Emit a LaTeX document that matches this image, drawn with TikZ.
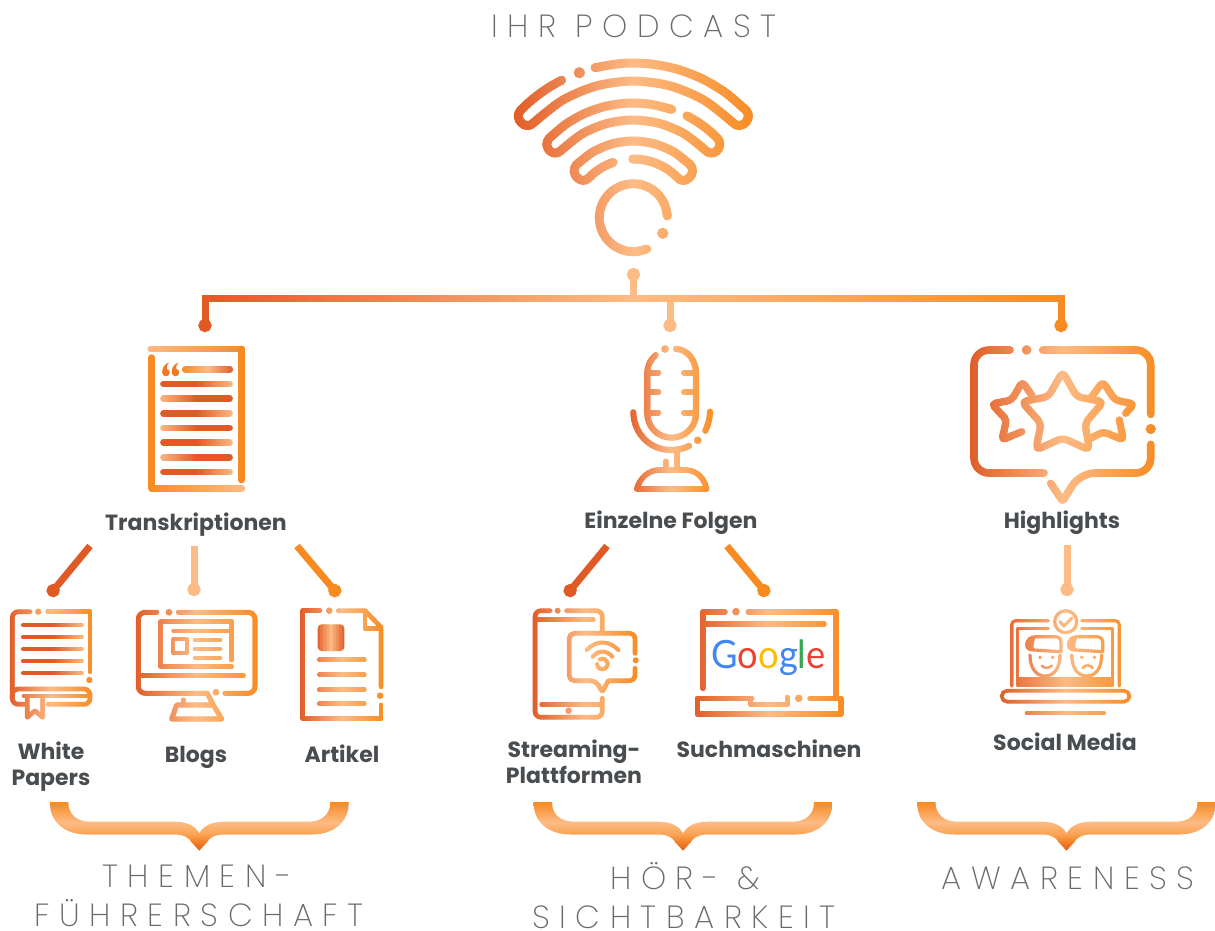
\documentclass[tikz,border=0pt]{standalone}
\usepackage{fontspec}
\setmainfont{Poppins}
\newfontfamily\lightf{Poppins}[UprightFont=* ExtraLight,LetterSpace=30]
\newfontfamily\googf{Lato}
\usetikzlibrary{arrows.meta}
\definecolor{dk}{HTML}{E05A25}
\definecolor{pc}{HTML}{FDBB85}
\definecolor{og}{HTML}{F78B22}
\definecolor{txt}{HTML}{4A4D50}
\definecolor{ttl}{HTML}{6A6A6A}
\colorlet{brA}{dk!30!og}
\colorlet{brB}{og!50!pc}
\pgfdeclareverticalshading{bracesh}{100bp}{color(0bp)=(dk); color(25bp)=(dk); color(33bp)=(brA); color(42bp)=(brB); color(54bp)=(pc); color(75bp)=(og); color(100bp)=(og)}
\colorlet{gc}{dk}
\colorlet{gL}{dk}\colorlet{gM}{pc}\colorlet{gR}{og}
\newcommand\stdgrad{\colorlet{gL}{dk}\colorlet{gM}{pc}\colorlet{gR}{og}}
\newcommand\setgrad[3]{\colorlet{gL}{#1}\colorlet{gM}{#2}\colorlet{gR}{#3}}
\newcommand\gstep{3}
% strips of a horizontal gradient: x0,x1,y0,y1,content
\newcommand\gradbox[5]{%
  \pgfmathsetmacro\gw{#2-(#1)}%
  \pgfmathtruncatemacro\gn{max(2,round(\gw/\gstep))}%
  \pgfmathsetmacro\gs{\gw/\gn}%
  \foreach \gi in {1,...,\gn}{%
    \pgfmathsetmacro\gt{(\gi-0.5)/\gn}%
    \pgfmathsetmacro\xa{#1+(\gi-1)*\gs}%
    \pgfmathsetmacro\xb{\xa+\gs+0.6}%
    \ifdim\gt pt<0.5pt
      \pgfmathsetmacro\gp{(1-2*\gt)*100}\colorlet{gc}{gL!\gp!gM}%
    \else
      \pgfmathsetmacro\gp{(2*\gt-1)*100}\colorlet{gc}{gR!\gp!gM}%
    \fi
    \begin{scope}
      \clip (\xa,#3) rectangle (\xb,#4);
      #5
    \end{scope}
  }%
}
\newcommand\dotg[3]{\fill[gc] (#1,#2) circle ({#3*1.12});}
\newcommand\wtip[6]{.. controls ({633.3+(#1)*cos(#2)},{221-(#1)*sin(#2)}) and ({633.3+(#3)*cos(#4)},{221-(#3)*sin(#4)}) .. ({633.3+(#5)*cos(#6)},{221-(#5)*sin(#6)})}
\newcommand\warc[3]{plot[smooth,domain=#2:#3,samples=7] ({633.3+(#1)*cos(\x)},{221-(#1)*sin(\x)})}
\newcommand\warcc[3]{-- plot[smooth,domain=#2:#3,samples=7] ({633.3+(#1)*cos(\x)},{221-(#1)*sin(\x)})}
\newcommand\bracep[1]{%
 \shade[shading=bracesh,shift={(#1,0)}]
  (-149.5,802) -- (-131,802) .. controls (-131,815) and (-122,821.7) .. (-109,821.7)
  -- (-25,821.7) .. controls (-12,821.7) and (-4,826) .. (0,833.3)
  .. controls (4,826) and (12,821.7) .. (25,821.7) -- (109,821.7)
  .. controls (122,821.7) and (131,815) .. (131,802) -- (149.5,802)
  .. controls (149.5,822) and (135,834.5) .. (112,834.5) -- (25,834.5)
  .. controls (15,834.5) and (10,838) .. (8,842) -- (0,850.7) -- (-8,842)
  .. controls (-10,838) and (-15,834.5) .. (-25,834.5) -- (-112,834.5)
  .. controls (-135,834.5) and (-149.5,822) .. (-149.5,802) -- cycle;}
\tikzset{
  x=1pt,y=-1pt,
  ic/.style={draw=gc,line cap=round,line join=round,line width={(#1)*1.12pt},fill=none},
  ic/.default=4,
  droplead/.style={line width=7pt,-{Circle[length=13pt,width=13pt]}},
  boldlabel/.style={font=\bfseries\fontsize{22}{26}\selectfont,text=txt,align=center,inner sep=0pt,anchor=base},
  thinlabel/.style={font=\lightf\fontsize{32}{39}\selectfont,text=ttl,align=center,inner sep=0pt,anchor=base},
}
\begin{document}
\begin{tikzpicture}
\useasboundingbox (0,0) rectangle (1215,930);
\fill[white] (0,0) rectangle (1215,930);

% ---------- texts
\node[thinlabel] (title) at (634,37) {IHR PODCAST};
\node[boldlabel] (lT) at (196,530) {Transkriptionen};
\node[boldlabel] (lE) at (671,528) {Einzelne Folgen};
\node[boldlabel] (lH) at (1062,528) {Highlights};
\node[boldlabel] (lW) at (51,759) {White};
\node[boldlabel] (lW2) at (51,785) {Papers};
\node[boldlabel] (lB) at (196,762) {Blogs};
\node[boldlabel] (lA) at (342,762) {Artikel};
\node[boldlabel] (lS) at (574,757) {Streaming-};
\node[boldlabel] (lS2) at (574,783) {Plattformen};
\node[boldlabel] (lG) at (769,757) {Suchmaschinen};
\node[boldlabel] (lM) at (1065,750) {Social Media};
\node[thinlabel] (tA) at (197,887) {THEMEN-};
\node[thinlabel] (tB) at (199,926) {FÜHRERSCHAFT};
\node[thinlabel] (tC) at (685,889) {HÖR- \&};
\node[thinlabel] (tD) at (684,928) {SICHTBARKEIT};
\node[thinlabel] (tE) at (1068,889) {AWARENESS};

% ---------- connector coordinates
\coordinate (hub) at (633.5,268);
\coordinate (busL) at (205,298);
\coordinate (busM) at (670,298);
\coordinate (busH) at (633.5,298);
\coordinate (busR) at (1061,298);
\coordinate (dL) at (205,332);
\coordinate (dM) at (670,332);
\coordinate (dR) at (1061,332);
\coordinate (t1a) at (90,546);\coordinate (t1b) at (49,595.6);
\coordinate (t2a) at (194,546);\coordinate (t2b) at (194,596);
\coordinate (t3a) at (297,546);\coordinate (t3b) at (339,595.6);
\coordinate (e1a) at (607,546);\coordinate (e1b) at (566,595.6);
\coordinate (e2a) at (727,546);\coordinate (e2b) at (768,595.6);
\coordinate (h1a) at (1067,545);\coordinate (h1b) at (1067,596);

% ---------- connectors
\draw[droplead,pc] (busH) -- (hub);
\draw[droplead,dk] (busL) -- (dL);
\draw[droplead,pc] (busM) -- (dM);
\draw[droplead,og] (busR) -- (dR);
\renewcommand\gstep{6}
\gradbox{199}{1068}{288}{308}{\draw[draw=gc,line width=7pt,line join=miter] (205,310) -- (busL) -- (busR) -- (1061,310);}
\renewcommand\gstep{3}
\draw[droplead,dk] (t1a) -- (t1b);
\draw[droplead,pc] (t2a) -- (t2b);
\draw[droplead,og] (t3a) -- (t3b);
\draw[droplead,dk] (e1a) -- (e1b);
\draw[droplead,og] (e2a) -- (e2b);
\draw[droplead,pc] (h1a) -- (h1b);

% ---------- podcast symbol
\gradbox{512}{755}{55}{262}{
 \draw[ic=8] \warc{158}{104}{44.5} \wtip{158}{40.4}{140}{39.9}{140}{44.5} \warcc{140}{44.5}{135.5} \wtip{140}{140.1}{158}{139.6}{158}{135.5} \warcc{158}{135.5}{117};
 \dotg{579.3}{72.7}{5}
 \draw[ic=8] \warc{118}{71}{135.5} \wtip{118}{141}{101}{141.9}{101}{135.5} \warcc{101}{135.5}{44.5} \wtip{101}{38.1}{118}{39}{118}{44.5} \warcc{118}{44.5}{63};
 \draw[ic=8] \warc{62}{109}{135.5} \wtip{62}{145.9}{80}{143.5}{80}{135.5} \warcc{80}{135.5}{44.5} \wtip{80}{36.5}{62}{34.1}{62}{44.5} \warcc{62}{44.5}{90.5};
 \draw[ic=8] plot[domain=-3:-293,samples=17,smooth] ({633.3+34*cos(\x)},{217.7+34*sin(\x)});
 \dotg{662.7}{233.3}{5}
}

% ---------- transcript
\setgrad{pc}{pc!50!og}{og}
\gradbox{146}{247}{343}{360}{\draw[ic=6] (150.7,349) -- (241.7,349);}
\colorlet{gc}{og}
\draw[ic=6] (241.7,349) -- (241.7,480);
\draw[ic=6] (151.7,357.7) -- (151.7,488.3);
\setgrad{og}{og!50!pc}{pc}
\gradbox{146}{247}{480}{495}{\draw[ic=6] (151.7,488.3) -- (241.7,488.3);}
\setgrad{og}{pc}{dk}
\gradbox{182}{234}{360}{378}{\draw[ic=6.5] (185.5,369.3) -- (229.5,369.3);}
\fill[dk!35!og] (166,372.5) circle (3.8) (175.5,372.5) circle (3.8);
\fill[dk!35!og] (162.2,372.5) .. controls (162,367) and (165,364) .. (169,362.5) .. controls (167,365) and (166,367) .. (167,369) -- cycle;
\fill[dk!35!og] (171.7,372.5) .. controls (171.5,367) and (174.5,364) .. (178.5,362.5) .. controls (176.5,365) and (175.5,367) .. (176.5,369) -- cycle;
\setgrad{dk}{dk}{pc}
\gradbox{159}{234}{378}{390}{\draw[ic=6] (163.5,384) -- (229.5,384);}
\gradbox{159}{234}{407}{419}{\draw[ic=6] (163.5,413.3) -- (229.5,413.3);}
\gradbox{159}{234}{436}{449}{\draw[ic=6] (163.5,442.7) -- (229.5,442.7);}
\gradbox{159}{234}{466}{478}{\draw[ic=6] (163.5,472) -- (229.5,472);}
\setgrad{pc}{dk}{dk}
\gradbox{159}{234}{392}{405}{\draw[ic=6] (163.5,398.7) -- (229.5,398.7);}
\gradbox{159}{234}{422}{434}{\draw[ic=6] (163.5,428) -- (229.5,428);}
\gradbox{159}{234}{451}{463}{\draw[ic=6] (163.5,457.3) -- (229.5,457.3);}
\stdgrad

% ---------- microphone
\gradbox{626}{716}{342}{495}{
 \draw[ic=5.5] (655.7,355) .. controls (650,360) and (647.3,366) .. (647.3,373.3) -- (647.3,413.4) .. controls (647.3,427) and (658,437.7) .. (671.6,437.7) .. controls (685,437.7) and (696,427) .. (696,413.4) -- (696,373.3) .. controls (696,360) and (687,349) .. (676,349);
 \dotg{665}{349}{3.4}
 \draw[ic=5.5] (647.3,372.7) -- (658.3,372.7) (647.3,392.3) -- (658.3,392.3) (647.3,412.7) -- (658.3,412.7);
 \draw[ic=5.5] (684,372.7) -- (696,372.7) (684,392.3) -- (696,392.3) (684,412.7) -- (696,412.7);
 \draw[ic=5.5] (633.3,412.3) .. controls (634,434) and (650,450) .. (671.3,450) .. controls (678,450) and (684,448.5) .. (689,446);
 \dotg{697.7}{440.3}{3.4}
 \draw[ic=5.5] (710,411.7) .. controls (710,418) and (708,425) .. (705.3,430.7);
 \draw[ic=5.5] (676.7,450) -- (676.7,470) (665.7,461.7) -- (665.7,470);
 \draw[ic=5] (636.7,489) .. controls (640,478) and (648,470) .. (660,470) -- (685,470) .. controls (697,470) and (704,478) .. (706.7,489) -- cycle;
}

% ---------- highlights
\gradbox{968}{1158}{344}{507}{
 \draw[ic=6.8,rounded corners=15pt] (1010,350) -- (974,350) -- (974,473) -- (1044,473);
 \dotg{1026.7}{350}{4.3}
 \draw[ic=6.8,rounded corners=15pt] (1042.7,350) -- (1150.7,350) -- (1150.7,414.3);
 \dotg{1150.7}{429}{4.5}
 \draw[ic=6.8,rounded corners=15pt] (1150.7,444.3) -- (1150.7,473) -- (1080,473) [rounded corners=2pt] -- (1062.7,501) -- (1050.7,483.3);
 \draw[ic=6.5,rounded corners=5pt] (1062.7,371.7) -- (1076.7,396.7) -- (1103.3,401.7) -- (1085,423.3) -- (1089.3,450) -- (1062.7,438) -- (1036,450) -- (1041,423.3) -- (1021.7,401.7) -- (1048.3,396.7) -- cycle;
 \draw[ic=6.5,rounded corners=4pt] (1031.7,395) -- (1022.3,381.7) -- (1011.7,400) -- (991.7,404) -- (1006.7,420) -- (1001.7,440) -- (1021.7,431.7);
 \draw[ic=6.5,rounded corners=4pt] (1091.7,396.7) -- (1102.7,381.7) -- (1115,400) -- (1134,404) -- (1125.7,413.3);
 \draw[ic=6.5,rounded corners=4pt] (1119.3,420) -- (1123.3,440) -- (1103.3,431.7) -- (1090.7,438.3);
}

% ---------- white papers
\gradbox{8}{94}{606}{722}{
 \draw[ic=4.2,rounded corners=6pt] (30,611.7) -- (12.3,611.7) -- (12.3,704.3) -- (25,704.3);
 \dotg{38.3}{611.7}{2.8}
 \draw[ic=4.2] (47.7,611.7) -- (90,611.7) -- (90,671.7);
 \dotg{89.3}{680}{2.8}
 \draw[ic=4.2,rounded corners=6pt] (12.3,697) -- (12.3,689) -- (90,689) -- (90,704.3) -- (48.3,704.3);
 \draw[ic=2.8] (23.3,696) -- (90,696);
 \draw[ic=4.2] (27.3,698.3) -- (27.3,717.3) -- (35,710.7) -- (42.7,717.3) -- (42.7,698.3);
}
\setgrad{dk}{dk}{pc}
\gradbox{20}{85}{620}{630}{\draw[ic=4.2] (23.3,625) -- (81.7,625);}
\gradbox{20}{85}{632}{642}{\draw[ic=4.2] (23.3,637) -- (81.7,637);}
\gradbox{20}{85}{644}{654}{\draw[ic=4.2] (23.3,649) -- (81.7,649);}
\gradbox{20}{85}{656}{666}{\draw[ic=4.2] (23.3,661) -- (81.7,661);}
\gradbox{20}{85}{668}{678}{\draw[ic=4.2] (23.3,673) -- (81.7,673);}
\stdgrad

% ---------- blogs
\gradbox{134}{259}{607}{724}{
 \draw[ic=4.5,rounded corners=7pt] (156.7,612.3) -- (138.3,612.3) -- (138.3,693.3) -- (206.7,693.3);
 \dotg{169}{612.3}{3}
 \draw[ic=4.5,rounded corners=7pt] (178.3,612.3) -- (255,612.3) -- (255,693.3) -- (225,693.3);
 \dotg{216}{692.3}{3}
 \draw[ic=4.5] (140,675.7) -- (243.3,675.7);
 \draw[ic=4.5] (207.3,693.3) -- (213.3,705) -- (176.7,705) -- (171.7,719) -- (221.7,719) -- (213.3,705);
 \draw[ic=4.5] (183.3,700) -- (183.3,705);
 \draw[ic=4] (231.7,660) -- (231.7,621.7) -- (160.7,621.7) -- (160.7,666.7) -- (231.7,666.7);
 \draw[ic=3.6] (173.3,630.7) -- (230,630.7);
 \draw[ic=3.6] (173.3,639.3) rectangle (186.7,653);
 \draw[ic=4] (195,640) -- (220,640) (195,649) -- (220,649) (195,658) -- (220,658);
}

% ---------- article
\gradbox{299}{385}{606}{722}{
 \draw[ic=4.2] (320,610.7) -- (302.7,610.7) -- (302.7,718.3) -- (381,718.3) -- (381,705);
 \dotg{329.3}{610.7}{2.9}
 \dotg{380}{695.7}{2.9}
 \draw[ic=4.2] (381,686.7) -- (381,627.3) -- (365,610.7) -- (338.3,610.7);
 \draw[ic=4.2] (365,613.3) -- (365,628.3) -- (380,628.3);
 \draw[ic=4.2] (319.3,659.7) -- (364.3,659.7) (319.3,674.7) -- (364.3,674.7) (319.3,689.7) -- (364.3,689.7) (319.3,703.7) -- (364.3,703.7);
}
\setgrad{dk}{pc}{dk}
\gradbox{317}{345}{623}{652}{\fill[gc,rounded corners=4pt] (317.7,624.3) rectangle (344.3,651);}
\stdgrad

% ---------- streaming
\gradbox{531}{639}{606}{722}{
 \draw[ic=4.2,rounded corners=6pt] (550,610.7) -- (535,610.7) -- (535,717.3) -- (602.3,717.3) -- (602.3,698.3);
 \dotg{557.7}{610.7}{2.7}
 \draw[ic=4.2,rounded corners=6pt] (566.7,610.7) -- (602.3,610.7) -- (602.3,631.7);
 \draw[ic=4.2] (536.7,619.7) -- (593.3,619.7);
 \draw[ic=4.2] (541.7,704.3) -- (601.7,704.3);
 \dotg{568.7}{710.7}{2.9}
 \draw[ic=4.2,rounded corners=5pt] (635,653.3) -- (635,633.3) -- (569.3,633.3) -- (569.3,680.7) -- (595.7,680.7) [rounded corners=1pt] -- (602.3,691.7) -- (608.3,680.7) [rounded corners=5pt] -- (635,680.7) -- (635,668.3);
 \dotg{635.7}{660.3}{2.7}
 \draw[ic=3.6] (586.7,650) .. controls (596,640) and (609,640) .. (618.3,650);
 \draw[ic=3.6] (592.7,656.7) .. controls (598,650) and (607,650) .. (612.3,656.7);
 \draw[ic=3.6] plot[domain=180:480,samples=13,smooth] ({602.3+5.2*cos(\x)},{664-5.2*sin(\x)});
}
% ---------- google
\gradbox{692}{845}{606}{719}{
 \draw[ic=5] (725,611.7) -- (702.7,611.7) -- (702.7,688.3);
 \dotg{736}{611.7}{3.4}
 \draw[ic=5] (748.3,611.7) -- (836,611.7) -- (836,696.7);
 \draw[ic=5] (705,624) -- (824,624);
 \draw[ic=5] (751.7,698.3) -- (697.3,698.3) -- (697.3,714) -- (840.7,714) -- (840.7,698.3) -- (810,698.3);
 \dotg{798.7}{698.3}{3.4}
 \draw[ic=4.5] (750.7,698.3) -- (750.7,704.3) -- (787.3,704.3) -- (787.3,697.3);
}
\node[inner sep=0pt,anchor=base,font=\googf\fontsize{39}{44}\selectfont] (goog) at (768.5,668) {\scalebox{0.93}[1]{\textcolor[HTML]{4285F4}{G}\textcolor[HTML]{EA4335}{o}\textcolor[HTML]{FBBC05}{o}\textcolor[HTML]{4285F4}{g}\textcolor[HTML]{34A853}{l}\textcolor[HTML]{EA4335}{e}}};

% ---------- social media
\gradbox{998}{1133}{607}{718}{
 \draw[ic=2.8,rounded corners=4pt] (1048.3,620.7) -- (1011.7,620.7) -- (1011.7,686);
 \draw[ic=2.8,rounded corners=4pt] (1081.7,620.7) -- (1119.3,620.7) -- (1119.3,686);
 \draw[ic=2.8] (1065.7,621.7) circle (11);
 \draw[ic=2.8] (1060,621.7) -- (1064,626) -- (1071.7,618.3);
 \draw[ic=2.8] (1048.3,628.3) -- (1017.7,628.3) -- (1017.7,685) -- (1112.7,685) -- (1112.7,628.3) -- (1081.7,628.3);
 \fill[gc] (1017.7,677.3) rectangle (1112.7,685);
 \draw[ic=3.2,rounded corners=5.4pt] (1001.7,690.7) rectangle (1129.3,701.7);
 \draw[ic=3.6] (1026.7,713.3) -- (1104,713.3);
 % left face
 \draw[ic=2.8] (1061,651.7) -- (1061,643) .. controls (1061,639) and (1059,636.7) .. (1055,636.7) -- (1036,636.7) .. controls (1030,636.7) and (1026.7,640) .. (1026.7,645) .. controls (1026.7,649) and (1030,650) .. (1034,650) -- (1061,651.7);
 \fill[gc] (1026.7,645) .. controls (1026.7,640) and (1030,636.7) .. (1036,636.7) .. controls (1034,640) and (1033,645) .. (1034,650) .. controls (1030,650) and (1026.7,649) .. (1026.7,645) -- cycle;
 \draw[ic=2.8] (1030,655) .. controls (1030,668) and (1036,676) .. (1045,676) .. controls (1054,676) and (1060,668) .. (1060,655);
 \dotg{1040}{657.3}{1.6}\dotg{1052.7}{657.3}{1.6}
 \draw[ic=2.2] (1041.7,665.7) .. controls (1044,668.5) and (1049,668.5) .. (1051.7,665.7);
 % right face
 \draw[ic=2.8] (1102.7,651.7) -- (1102.7,643) .. controls (1102.7,639) and (1100.7,636.7) .. (1096.7,636.7) -- (1077.7,636.7) .. controls (1071.7,636.7) and (1068.4,640) .. (1068.4,645) .. controls (1068.4,649) and (1071.7,650) .. (1075.7,650) -- (1102.7,651.7);
 \fill[gc] (1068.4,645) .. controls (1068.4,640) and (1071.7,636.7) .. (1077.7,636.7) .. controls (1075.7,640) and (1074.7,645) .. (1075.7,650) .. controls (1071.7,650) and (1068.4,649) .. (1068.4,645) -- cycle;
 \draw[ic=2.8] (1071.7,655) .. controls (1071.7,668) and (1077.7,676) .. (1086.7,676) .. controls (1095.7,676) and (1101.7,668) .. (1101.7,655);
 \dotg{1081.7}{657.3}{1.6}\dotg{1094.4}{657.3}{1.6}
 \draw[ic=2.2] (1082.7,668) .. controls (1085,664.5) and (1090,664.5) .. (1092.7,668);
}

% ---------- braces
\bracep{199.3}
\bracep{683}
\bracep{1066.5}
\end{tikzpicture}
\end{document}
